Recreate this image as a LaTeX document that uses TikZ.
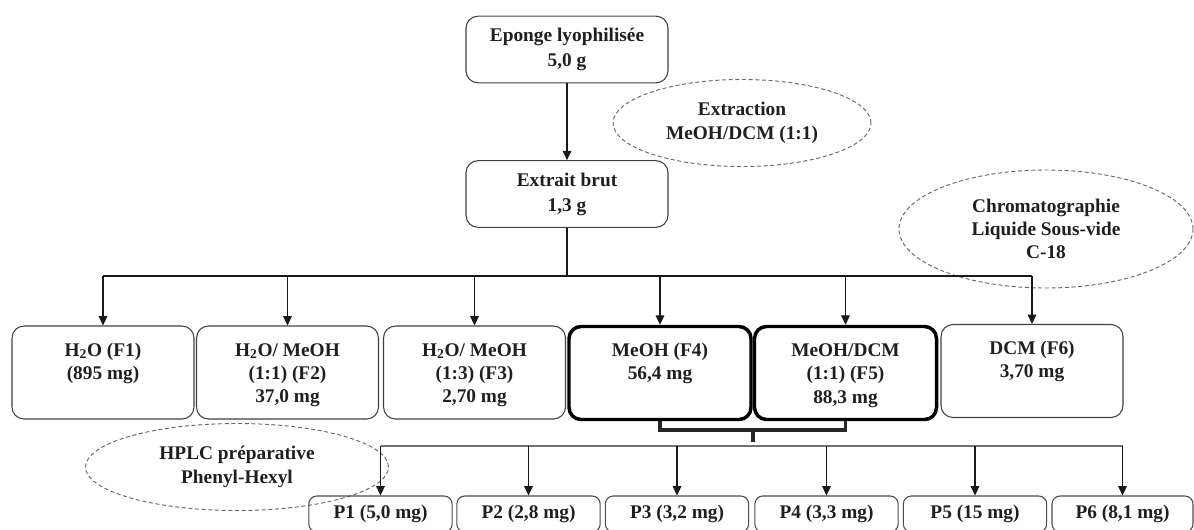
\documentclass[tikz,border=0pt]{standalone}
\usepackage{fontspec}
\setmainfont{Liberation Serif}
\usetikzlibrary{arrows.meta,shapes.geometric}
\begin{document}
\begin{tikzpicture}[x=0.75pt,y=-0.75pt,
  every node/.style={font=\bfseries\fontsize{14.5}{17.5}\selectfont, align=center, text=black!88},
  box/.style={draw=black!75, line width=0.8pt, rounded corners=9pt, inner sep=0pt},
  topbox/.style={box, minimum width=151.5pt, minimum height=50pt},
  fbox/.style={box, minimum width=136.5pt, minimum height=69.75pt},
  thickbox/.style={fbox, draw=black, line width=2.6pt},
  pbox/.style={draw=black!70, line width=0.8pt, rounded corners=6pt, inner sep=0pt, minimum width=107.5pt, minimum height=27pt},
  oval/.style={ellipse, draw=black!60, dash pattern=on 3pt off 2pt, line width=0.7pt, inner sep=0pt},
  conn/.style={draw=black!90, line width=0.8pt},
  arr/.style={conn, -{Triangle[length=7pt,width=6.5pt]}},
  grayconn/.style={draw=black!55, line width=1.3pt},
  brace/.style={draw=black!85, line width=2.4pt},
]
\path[use as bounding box] (0,0) rectangle (1194,529);
\clip (0,0) rectangle (1194,529);

% top boxes
\node[topbox, font=\bfseries\fontsize{14.5}{18.75}\selectfont] (top) at (567,49.5) {Eponge lyophilisée\\5,0 g};
\node[topbox, font=\bfseries\fontsize{14.5}{18.75}\selectfont] (ext) at (567,194) {Extrait brut\\1,3 g};
\draw[arr] (top) -- (ext);

% ellipses
\node[oval, minimum width=193.5pt, minimum height=65.25pt] (oext) at (742,123) {Extraction\\MeOH/DCM (1:1)};
\node[oval, minimum width=220.5pt, minimum height=88.5pt] (ochrom) at (1046,229) {Chromatographie\\Liquide Sous-vide\\C-18};

% fractions
\newcommand{\ftxt}[1]{\parbox[c][69.75pt][t]{130pt}{\centering\rule{0pt}{22.5pt}#1}}
\node[fbox] (f1) at (103,372.5) {\ftxt{H\textsubscript{2}O (F1)\\(895 mg)}};
\node[fbox] (f2) at (287.5,372.5) {\ftxt{H\textsubscript{2}O/ MeOH\\(1:1) (F2)\\37,0 mg}};
\node[fbox] (f3) at (474.5,372.5) {\ftxt{H\textsubscript{2}O/ MeOH\\(1:3) (F3)\\2,70 mg}};
\node[thickbox] (f4) at (660,373) {\ftxt{MeOH (F4)\\56,4 mg}};
\node[thickbox] (f5) at (845.5,373) {\ftxt{MeOH/DCM\\(1:1) (F5)\\88,3 mg}};
\node[fbox] (f6) at (1032,371) {\ftxt{DCM (F6)\\3,70 mg}};

\coordinate (busF) at (567,276);
\draw[conn] (ext.south) -- (busF);
\draw[conn] (f1.north |- busF) -- (f6.north |- busF);
\foreach \f in {f1,f2,f3,f4,f5,f6}{
  \draw[arr] (\f.north |- busF) -- (\f.north);
}

% bracket under F4 and F5
\coordinate (brk) at (753,430);
\coordinate (busP) at (753,446);
\draw[brace] (f4.south) -- (f4.south |- brk) -- (f5.south |- brk) -- (f5.south);
\draw[brace] (brk) -- ([yshift=3pt]busP);

% HPLC ellipse
\node[oval, minimum width=227.25pt, minimum height=65.25pt] (ohplc) at (237,467) {HPLC préparative\\Phenyl-Hexyl};

% P boxes
\node[pbox] (p1) at (380.5,514) {P1 (5,0 mg)};
\node[pbox] (p2) at (528.5,514) {P2 (2,8 mg)};
\node[pbox] (p3) at (677,514) {P3 (3,2 mg)};
\node[pbox] (p4) at (826.5,514) {P4 (3,3 mg)};
\node[pbox] (p5) at (975,514) {P5 (15 mg)};
\node[pbox, minimum width=105.75pt] (p6) at (1122.5,514) {P6 (8,1 mg)};

\draw[grayconn] (p1.north |- busP) -- (p6.north |- busP);
\foreach \p in {p1,p2,p3,p4,p5,p6}{
  \draw[arr] (\p.north |- busP) -- (\p.north);
}
\end{tikzpicture}
\end{document}
